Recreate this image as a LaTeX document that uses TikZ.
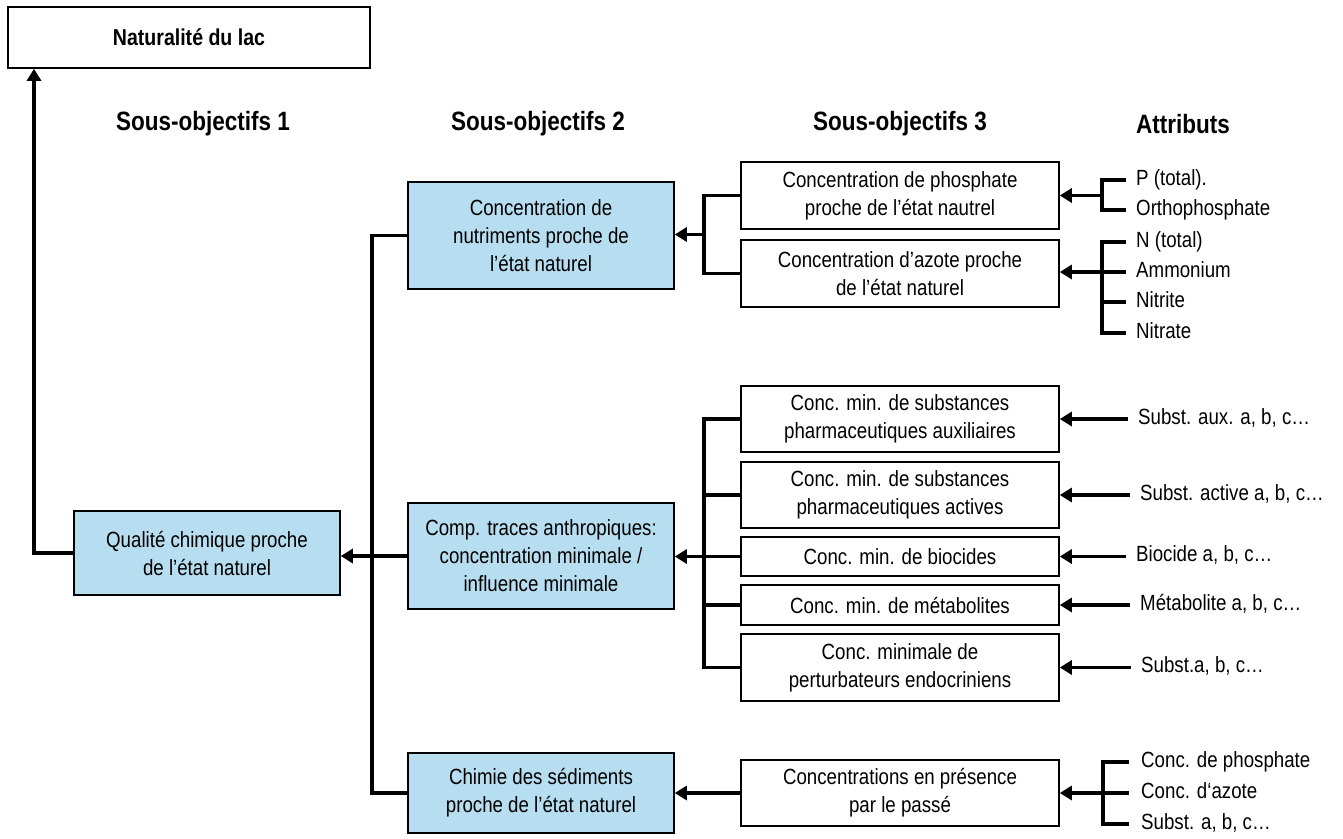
\documentclass[tikz,border=0pt]{standalone}
\usepackage{fontspec}
\setmainfont{Liberation Sans}[FakeStretch=0.85]
\usetikzlibrary{arrows.meta}
\definecolor{paleblue}{RGB}{183,221,240}
\newcommand\boxfont{\fontsize{22}{28}\selectfont}
\newcommand\headfont{\fontsize{26.5}{30}\selectfont\bfseries}

\begin{document}
\begin{tikzpicture}[x=1pt, y=-1pt, >={Triangle[length=12pt,width=14pt]},
  box/.style={draw, line width=1.6pt, inner sep=0pt, align=center, font=\boxfont, minimum width=318pt},
  goal/.style={box, fill=paleblue, minimum width=266pt},
  head/.style={font=\headfont},
  attr/.style={anchor=west, inner sep=0pt, font=\boxfont, text height=15pt, text depth=4.5pt},
  link/.style={line width=3.4pt},
  feed/.style={link, ->}]
  \useasboundingbox (0,0) rectangle (1343,838);

  % Ziel und Titel
  \node[box, minimum width=362pt, minimum height=61pt, font=\fontsize{23}{26}\selectfont\bfseries] (lac) at (189,37.5) {Naturalité du lac};
  \node[head] (h1) at (203,124) {Sous-objectifs 1};
  \node[head] (h2) at (538,124) {Sous-objectifs 2};
  \node[head] (h3) at (900,124) {Sous-objectifs 3};
  \node[head] (h4) at (1183,124) {Attributs};

  % Sous-objectifs 1 et 2
  \node[goal, minimum height=84pt] (qual) at (207,553) {Qualité chimique proche\\de l’état naturel};
  \node[goal, minimum height=107pt] (nutri) at (541,235.5) {Concentration de\\nutriments proche de\\l’état naturel};
  \node[goal, minimum height=106pt] (comp) at (541,556) {Comp. traces anthropiques:\\concentration minimale /\\influence minimale};
  \node[goal, minimum height=80pt] (sedi) at (541,793) {Chimie des sédiments\\proche de l’état naturel};

  % Sous-objectifs 3
  \node[box, minimum height=67pt] (phos) at (900,195.5) {Concentration de phosphate\\proche de l’état nautrel};
  \node[box, minimum height=67pt] (azote) at (900,273.5) {Concentration d’azote proche\\de l’état naturel};
  \node[box, minimum height=66pt] (aux) at (900,419) {Conc. min. de substances\\pharmaceutiques auxiliaires};
  \node[box, minimum height=66pt] (act) at (900,495) {Conc. min. de substances\\pharmaceutiques actives};
  \node[box, minimum height=39pt] (bio) at (900,556.5) {Conc. min. de biocides};
  \node[box, minimum height=40pt] (meta) at (900,605) {Conc. min. de métabolites};
  \node[box, minimum height=67pt] (endo) at (900,667.5) {Conc. minimale de\\perturbateurs endocriniens};
  \node[box, minimum height=66pt] (passe) at (900,793) {Concentrations en présence\\par le passé};

  % Attributs
  \node[attr] (ptot) at (1136,180) {P (total).};
  \node[attr] (ortho) at (1136,210) {Orthophosphate};
  \node[attr] (ntot) at (1136,242) {N (total)};
  \node[attr] (ammo) at (1136,272) {Ammonium};
  \node[attr] (nitri) at (1136,302) {Nitrite};
  \node[attr] (nitra) at (1136,333) {Nitrate};
  \node[attr] (saux) at (1138,419) {Subst. aux. a, b, c…};
  \node[attr] (sact) at (1140,495) {Subst. active a, b, c…};
  \node[attr] (sbio) at (1136,556.5) {Biocide a, b, c…};
  \node[attr] (smeta) at (1140,605) {Métabolite a, b, c…};
  \node[attr] (sendo) at (1141,667.5) {Subst.a, b, c…};
  \node[attr] (cphos) at (1141,762) {Conc. de phosphate};
  \node[attr] (cazote) at (1141,793) {Conc. d‘azote};
  \node[attr] (csubst) at (1141,824) {Subst. a, b, c…};

  % Attributs -> Sous-objectifs 3
  \coordinate (bp) at (1102,195.5);
  \coordinate (bn) at (1102,272);
  \coordinate (bs) at (1103,793);
  \draw[link] ([xshift=-10pt]ptot.west) -| (bp) |- ([xshift=-10pt]ortho.west);
  \draw[feed] (bp) -- (phos.east);
  \draw[link] ([xshift=-10pt]ntot.west) -| (bn) |- ([xshift=-10pt]nitra.west);
  \draw[link] ([xshift=-10pt]ammo.west) -- (bn);
  \draw[link] ([xshift=-10pt]nitri.west) -- (nitri.west -| bn);
  \draw[feed] (bn) -- (bn -| azote.east);
  \foreach \a/\b in {saux/aux, sact/act, sbio/bio, smeta/meta, sendo/endo}
    \draw[feed] ([xshift=-10pt]\a.west) -- (\b.east);
  \draw[link] ([xshift=-12pt]cphos.west) -| (bs) |- ([xshift=-12pt]csubst.west);
  \draw[link] ([xshift=-12pt]cazote.west) -- (bs);
  \draw[feed] (bs) -- (passe.east);

  % Sous-objectifs 3 -> 2
  \coordinate (b1) at (704,234.5);
  \coordinate (b2) at (704,556.5);
  \draw[link] (phos.west) -| (b1) |- (azote.west);
  \draw[feed] (b1) -- (b1 -| nutri.east);
  \draw[link] (aux.west) -| (b2) |- (endo.west);
  \foreach \n in {act, meta}
    \draw[link] (\n.west) -- (\n.west -| b2);
  \draw[feed] (bio.west) -- (bio.west -| comp.east);
  \draw[feed] (passe.west) -- (passe.west -| sedi.east);

  % Sous-objectifs 2 -> 1 -> lac
  \coordinate (b3) at (372,554);
  \coordinate (b4) at (34,553);
  \draw[link] (nutri.west) -| (b3) |- (sedi.west);
  \draw[feed] (comp.west) -- (comp.west -| qual.east);
  \draw[feed] (qual.west) -- (b4) -- (b4 |- lac.south);
\end{tikzpicture}
\end{document}
